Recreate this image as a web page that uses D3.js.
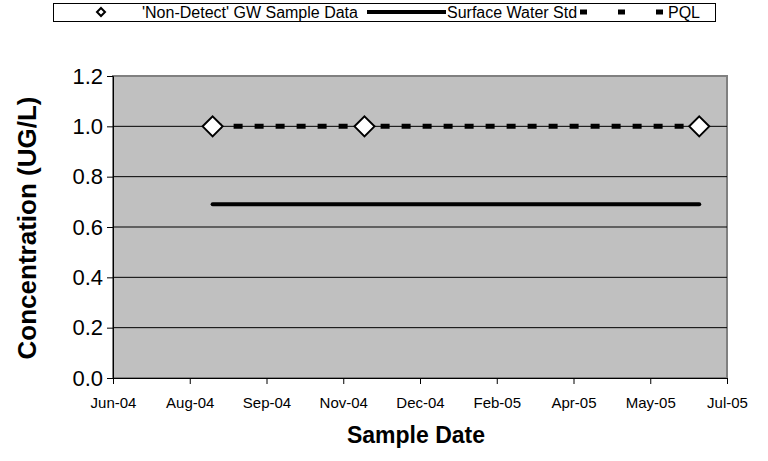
<!DOCTYPE html>
<html><head><meta charset="utf-8">
<script src="https://cdn.jsdelivr.net/npm/d3@7"></script>
<style>body{margin:0;background:#fff;}svg{display:block;font-family:"Liberation Sans",Arial,sans-serif;}</style>
</head><body>
<svg id="chart" width="768" height="461"></svg>
<script>
// ---- data ----
const sampleDates = ["2004-08-23", "2004-11-24", "2005-06-17"];
const nonDetectValues = [1.0, 1.0, 1.0];
const surfaceWaterStd = [0.69, 0.69, 0.69];
const pqlValues = [1.0, 1.0, 1.0];
const yTicks = [0, 0.2, 0.4, 0.6, 0.8, 1.0, 1.2];
const axisStart = "2004-06-23";
const tickIntervalDays = 47;
const tickCount = 9;
const legendLabels = ["'Non-Detect' GW Sample Data", "Surface Water Std", "PQL"];

const parse = d3.timeParse("%Y-%m-%d");
const dates = sampleDates.map(parse);
const start = parse(axisStart);
const xTicks = d3.range(tickCount).map(i => d3.timeDay.offset(start, i * tickIntervalDays));

const svg = d3.select("#chart");
const L = 113, R = 727, T = 76, B = 378;
const x = d3.scaleTime().domain([xTicks[0], xTicks[xTicks.length - 1]]).range([L, R]);
const y = d3.scaleLinear().domain([0, 1.2]).range([B, T]);

// plot area
svg.append("rect").attr("x", L).attr("y", T).attr("width", R - L).attr("height", B - T)
  .attr("fill", "#c0c0c0").attr("stroke", "#808080").attr("stroke-width", 2);

// gridlines
svg.append("g").selectAll("line").data(yTicks.filter(v => v > 0 && v < 1.2)).join("line")
  .attr("x1", L).attr("x2", R).attr("y1", d => y(d)).attr("y2", d => y(d))
  .attr("stroke", "#000").attr("stroke-width", 1);

// axes
const yAxis = svg.append("g").attr("transform", `translate(${L},0)`)
  .call(d3.axisLeft(y).tickValues(yTicks).tickFormat(d3.format(".1f")).tickSize(6).tickPadding(4));
yAxis.select(".domain").attr("stroke", "#000");
yAxis.selectAll("text").attr("font-size", 22).attr("fill", "#000").attr("font-family", "Liberation Sans, Arial, sans-serif");

const xAxis = svg.append("g").attr("transform", `translate(0,${B})`)
  .call(d3.axisBottom(x).tickValues(xTicks).tickFormat(d3.timeFormat("%b-%y")).tickSize(6).tickPadding(13));
xAxis.select(".domain").attr("stroke", "#000");
xAxis.selectAll("text").attr("font-size", 15).attr("fill", "#000").attr("font-family", "Liberation Sans, Arial, sans-serif");

// titles
svg.append("text").attr("x", 416).attr("y", 443).attr("text-anchor", "middle")
  .attr("font-size", 23).attr("font-weight", "bold").text("Sample Date");
svg.append("text").attr("transform", "translate(36,228) rotate(-90)").attr("text-anchor", "middle")
  .attr("font-size", 26).attr("font-weight", "bold").text("Concentration (UG/L)");

// surface water std
const line = d3.line().x((d, i) => x(dates[i])).y(d => y(d));
svg.append("path").datum(surfaceWaterStd).attr("d", line).attr("fill", "none")
  .attr("stroke", "#000").attr("stroke-width", 4).attr("stroke-linecap", "round");

// PQL
svg.append("path").datum(pqlValues).attr("d", line).attr("fill", "none")
  .attr("stroke", "#000").attr("stroke-width", 5).attr("stroke-dasharray", "9,12");

// diamonds
svg.append("g").selectAll("path").data(nonDetectValues).join("path")
  .attr("transform", (d, i) => `translate(${x(dates[i])},${y(d)})`)
  .attr("d", "M0,-10L10,0L0,10L-10,0Z")
  .attr("fill", "#fff").attr("stroke", "#000").attr("stroke-width", 2);

// legend
const lg = svg.append("g");
lg.append("rect").attr("x", 53.5).attr("y", 3.5).attr("width", 662).attr("height", 18)
  .attr("fill", "#fff").attr("stroke", "#000").attr("stroke-width", 1);
lg.append("path").attr("d", "M101,8L105,12L101,16L97,12Z").attr("fill", "#fff").attr("stroke", "#000").attr("stroke-width", 2);
lg.append("text").attr("x", 142).attr("y", 18).attr("font-size", 16).text(legendLabels[0]);
lg.append("line").attr("x1", 367).attr("x2", 446).attr("y1", 12).attr("y2", 12).attr("stroke", "#000").attr("stroke-width", 4);
lg.append("text").attr("x", 447).attr("y", 18).attr("font-size", 16).text(legendLabels[1]);
lg.append("line").attr("x1", 580).attr("x2", 663).attr("y1", 12).attr("y2", 12).attr("stroke", "#000").attr("stroke-width", 5).attr("stroke-dasharray", "7,31");
lg.append("text").attr("x", 668).attr("y", 18).attr("font-size", 16).text(legendLabels[2]);
</script>
</body></html>
